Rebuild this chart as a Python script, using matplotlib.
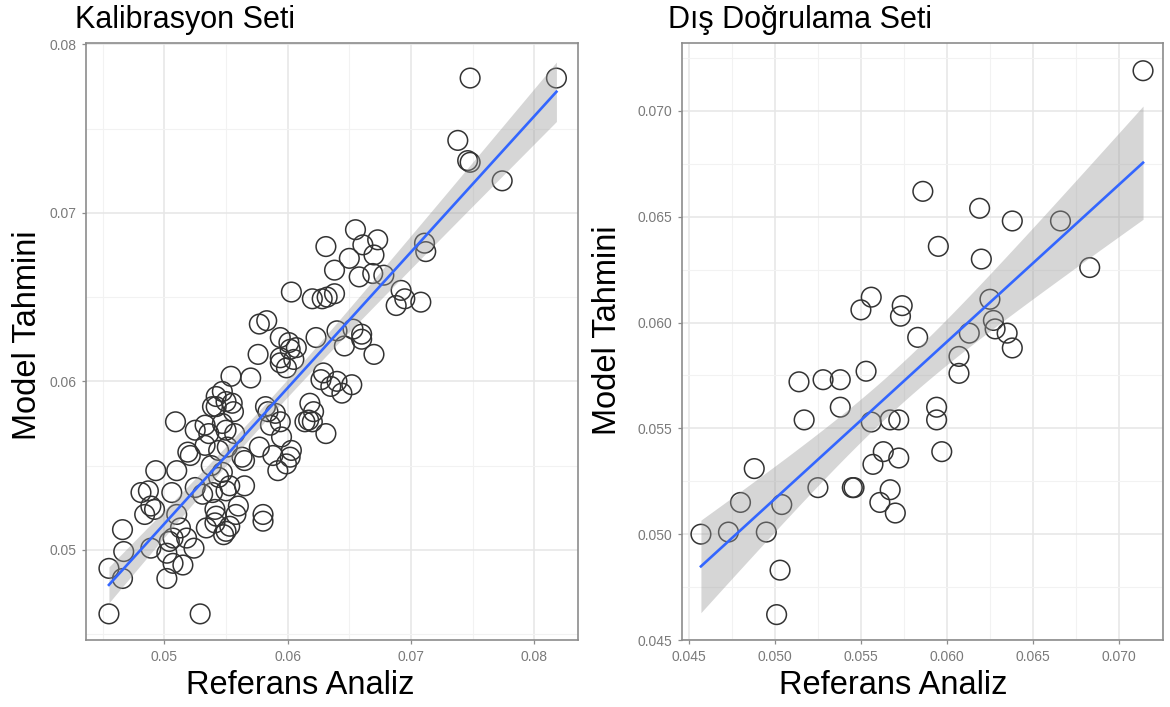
import numpy as np
import matplotlib
matplotlib.use("Agg")
import matplotlib.pyplot as plt
from matplotlib.ticker import MultipleLocator, FormatStrFormatter

plt.rcParams["font.family"] = ["Liberation Sans", "DejaVu Sans"]

# Calibration set: reference analysis vs. model prediction
cal_ref = [
    0.0748, 0.0818, 0.0738, 0.0746, 0.0748, 0.0774, 0.0711, 0.0712, 0.0655, 0.0631,
    0.0673, 0.0661, 0.0670, 0.0650, 0.0638, 0.0658, 0.0669, 0.0678, 0.0603, 0.0620,
    0.0628, 0.0632, 0.0638, 0.0692, 0.0688, 0.0695, 0.0708, 0.0577, 0.0583, 0.0594,
    0.0623, 0.0640, 0.0653, 0.0660, 0.0601, 0.0607,
    0.0576, 0.0594, 0.0602, 0.0605, 0.0599, 0.0646, 0.0670, 0.0660, 0.0554, 0.0570,
    0.0542, 0.0547, 0.0550, 0.0556, 0.0582, 0.0584, 0.0627, 0.0635, 0.0640, 0.0652,
    0.0644, 0.0629, 0.0618, 0.0621, 0.0617, 0.0614, 0.0620, 0.0631, 0.0509, 0.0525,
    0.0533, 0.0547, 0.0550, 0.0557, 0.0586, 0.0594, 0.0519, 0.0521, 0.0533, 0.0544,
    0.0551, 0.0563, 0.0565, 0.0577, 0.0588, 0.0602, 0.0599, 0.0592, 0.0493, 0.0510,
    0.0538, 0.0547, 0.0506, 0.0481, 0.0487, 0.0489, 0.0492, 0.0525, 0.0539, 0.0553,
    0.0565, 0.0560, 0.0541, 0.0542, 0.0541, 0.0553, 0.0550, 0.0548, 0.0580, 0.0580,
    0.0510, 0.0513, 0.0504, 0.0524, 0.0489, 0.0467, 0.0466, 0.0455, 0.0466, 0.0502,
    0.0507, 0.0515, 0.0455, 0.0529,
    0.0555, 0.0542, 0.0590, 0.0536, 0.0594, 0.0484, 0.0518, 0.0531, 0.0544, 0.0550,
    0.0534, 0.0558, 0.0539, 0.0603, 0.0595, 0.0502, 0.0507,
]
cal_pred = [
    0.0780, 0.0780, 0.0743, 0.0731, 0.0730, 0.0719, 0.0682, 0.0677, 0.0690, 0.0680,
    0.0684, 0.0681, 0.0675, 0.0673, 0.0666, 0.0662, 0.0664, 0.0663, 0.0653, 0.0649,
    0.0649, 0.0650, 0.0652, 0.0654, 0.0645, 0.0649, 0.0647, 0.0634, 0.0636, 0.0626,
    0.0626, 0.0630, 0.0631, 0.0628, 0.0623, 0.0620,
    0.0616, 0.0614, 0.0619, 0.0613, 0.0608, 0.0621, 0.0616, 0.0625, 0.0603, 0.0602,
    0.0591, 0.0594, 0.0588, 0.0582, 0.0585, 0.0582, 0.0601, 0.0597, 0.0600, 0.0598,
    0.0593, 0.0605, 0.0587, 0.0582, 0.0577, 0.0576, 0.0576, 0.0569, 0.0576, 0.0571,
    0.0574, 0.0575, 0.0571, 0.0569, 0.0574, 0.0576, 0.0558, 0.0556, 0.0562, 0.0559,
    0.0561, 0.0555, 0.0553, 0.0561, 0.0556, 0.0555, 0.0551, 0.0547, 0.0547, 0.0547,
    0.0550, 0.0546, 0.0534, 0.0534, 0.0535, 0.0526, 0.0524, 0.0537, 0.0534, 0.0538,
    0.0538, 0.0526, 0.0524, 0.0520, 0.0516, 0.0514, 0.0511, 0.0509, 0.0521, 0.0517,
    0.0521, 0.0513, 0.0505, 0.0501, 0.0501, 0.0499, 0.0512, 0.0489, 0.0483, 0.0483,
    0.0492, 0.0491, 0.0462, 0.0462,
    0.0587, 0.0585, 0.0581, 0.0569, 0.0611, 0.0521, 0.0507, 0.0533, 0.0543, 0.0535,
    0.0513, 0.0521, 0.0585, 0.0559, 0.0567, 0.0498, 0.0507,
]

# External validation set
val_ref = [
    0.0714, 0.0586, 0.0619, 0.0638, 0.0666, 0.0595, 0.0620, 0.0683, 0.0625, 0.0556,
    0.0550, 0.0574, 0.0573, 0.0583, 0.0627, 0.0628, 0.0635, 0.0613, 0.0638, 0.0607,
    0.0607, 0.0514, 0.0528, 0.0538, 0.0553, 0.0517, 0.0538, 0.0556, 0.0567, 0.0572,
    0.0594, 0.0594, 0.0597, 0.0563, 0.0557, 0.0572, 0.0488, 0.0480, 0.0504, 0.0525,
    0.0545, 0.0546, 0.0567, 0.0561, 0.0570, 0.0457, 0.0473, 0.0495, 0.0503, 0.0501,
]
val_pred = [
    0.0719, 0.0662, 0.0654, 0.0648, 0.0648, 0.0636, 0.0630, 0.0626, 0.0611, 0.0612,
    0.0606, 0.0608, 0.0603, 0.0593, 0.0601, 0.0597, 0.0595, 0.0595, 0.0588, 0.0584,
    0.0576, 0.0572, 0.0573, 0.0573, 0.0577, 0.0554, 0.0560, 0.0553, 0.0554, 0.0554,
    0.0560, 0.0554, 0.0539, 0.0539, 0.0533, 0.0536, 0.0531, 0.0515, 0.0514, 0.0522,
    0.0522, 0.0522, 0.0521, 0.0515, 0.0510, 0.0500, 0.0501, 0.0501, 0.0483, 0.0462,
]

panel_titles = ["Kalibrasyon Seti", "Dış Doğrulama Seti"]
x_label = "Referans Analiz"
y_label = "Model Tahmini"


def t_quantile(df, z=1.959964):
    # Cornish-Fisher expansion of the 97.5% Student t quantile
    return z + (z**3 + z) / (4 * df) + (5 * z**5 + 16 * z**3 + 3 * z) / (96 * df**2)


def lm_fit(x, y, n_grid=80):
    x = np.asarray(x)
    y = np.asarray(y)
    n = len(x)
    slope, intercept = np.polyfit(x, y, 1)
    resid = y - (slope * x + intercept)
    s = np.sqrt(np.sum(resid**2) / (n - 2))
    sxx = np.sum((x - x.mean())**2)
    xs = np.linspace(x.min(), x.max(), n_grid)
    fit = slope * xs + intercept
    se = s * np.sqrt(1 / n + (xs - x.mean())**2 / sxx)
    half = t_quantile(n - 2) * se
    return xs, fit, fit - half, fit + half


def style_axes(ax, major, minor, fmt):
    ax.set_facecolor("white")
    for sp in ax.spines.values():
        sp.set_color("#8c8c8c")
        sp.set_linewidth(1.2)
    ax.xaxis.set_major_locator(MultipleLocator(major))
    ax.yaxis.set_major_locator(MultipleLocator(major))
    ax.xaxis.set_minor_locator(MultipleLocator(minor))
    ax.yaxis.set_minor_locator(MultipleLocator(minor))
    ax.xaxis.set_major_formatter(FormatStrFormatter(fmt))
    ax.yaxis.set_major_formatter(FormatStrFormatter(fmt))
    ax.grid(which="major", color="#e6e6e6", linewidth=1.1, zorder=0)
    ax.grid(which="minor", color="#f2f2f2", linewidth=0.8, zorder=0)
    ax.tick_params(which="major", length=3, width=0.9, color="#8c8c8c",
                   labelsize=10, labelcolor="#7a7a7a", pad=4)
    ax.tick_params(which="minor", length=0)
    ax.set_axisbelow(True)


def draw_panel(ax, x, y):
    ax.scatter(x, y, s=200, facecolors="none", edgecolors="#333333",
               linewidths=1.1, zorder=2)
    xs, fit, lo, hi = lm_fit(x, y)
    ax.fill_between(xs, lo, hi, color="#999999", alpha=0.4, linewidth=0, zorder=3)
    ax.plot(xs, fit, color="#3366ff", linewidth=1.9, zorder=4)


fig = plt.figure(figsize=(11.7, 7.07), dpi=100)
W, H = 1170, 707

ax1 = fig.add_axes([86 / W, (H - 640) / H, (578 - 86) / W, (640 - 43) / H])
style_axes(ax1, 0.01, 0.005, "%.2f")
draw_panel(ax1, cal_ref, cal_pred)
ax1.set_xlim(0.04364, 0.08355)
ax1.set_ylim(0.04465, 0.08008)

ax2 = fig.add_axes([682 / W, (H - 640) / H, (1163 - 682) / W, (640 - 43) / H])
style_axes(ax2, 0.005, 0.0025, "%.3f")
draw_panel(ax2, val_ref, val_pred)
ax2.set_xlim(0.0446, 0.07256)
ax2.set_ylim(0.045, 0.07321)

# titles and axis titles
fig.text(75 / W, 1 - 20 / H, panel_titles[0], fontsize=22, ha="left", va="center")
fig.text(668 / W, 1 - 20 / H, panel_titles[1], fontsize=22, ha="left", va="center")
fig.text(300 / W, 1 - 686 / H, x_label, fontsize=23.5, ha="center", va="center")
fig.text(893 / W, 1 - 686 / H, x_label, fontsize=23.5, ha="center", va="center")
fig.text(28 / W, 1 - 335 / H, y_label, fontsize=23.5, ha="center", va="center", rotation=90)
fig.text(607 / W, 1 - 330 / H, y_label, fontsize=23.5, ha="center", va="center", rotation=90)

fig.savefig("out.png", dpi=100, facecolor="white")
